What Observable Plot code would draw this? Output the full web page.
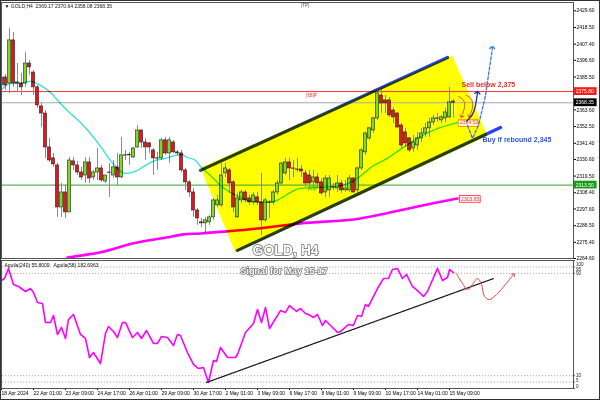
<!DOCTYPE html>
<html><head><meta charset="utf-8">
<script src="https://cdn.jsdelivr.net/npm/d3@7"></script>
<script src="https://cdn.jsdelivr.net/npm/@observablehq/plot@0.6"></script>
<style>
body{margin:0;background:#fff;}
#wrap{position:relative;width:600px;height:400px;overflow:hidden;font-family:"Liberation Sans",Arial,sans-serif;}
#main{position:absolute;left:0;top:0;}
#ind{position:absolute;left:0;top:259px;}
#border{position:absolute;left:0;top:0;width:598px;height:398px;border:1px solid #333;pointer-events:none;}
</style></head><body>
<div id="wrap"><div id="main"></div><div id="ind"></div><div id="border"></div></div>
<script>
// ---- H4 candles (bar index 0..113) ----
const open = [2379.9,2385.2,2381.2,2409.9,2381.9,2381.2,2381.2,2394.5,2388.5,2378.6,
2365.9,2361.2,2338.6,2331.3,2326.6,2298.6,2308.6,2295.3,2329.3,2326.6,
2321.9,2319.9,2328.6,2318.6,2321.9,2324.6,2315.9,2321.9,2319.9,2325.3,
2318.6,2333.3,2333.3,2331.9,2338.6,2349.9,2341.9,2341.3,2336.6,2331.3,
2331.3,2343.3,2334.6,2341.9,2335.3,2334.6,2323.3,2315.3,2308.6,2296.6,
2288.7,2288.0,2288.7,2292.0,2300.0,2300.0,2321.3,2323.3,2315.3,2292.0,
2303.3,2308.6,2304.6,2302.0,2305.3,2302.0,2290.0,2302.0,2302.0,2308.6,
2314.6,2321.3,2328.6,2324.6,2323.9,2323.9,2321.3,2319.9,2315.3,2318.6,
2315.3,2308.6,2310.0,2312.0,2311.3,2314.6,2310.0,2310.0,2317.9,2310.0,
2324.6,2335.3,2344.6,2349.9,2357.9,2373.2,2369.9,2369.9,2363.2,2361.2,
2353.2,2348.6,2344.6,2337.9,2339.9,2344.6,2347.9,2351.3,2355.2,2357.9,
2356.6,2357.9,2358.6,2369.17];
const high = [2386.6,2387.2,2417.8,2415.2,2394.5,2387.9,2401.9,2396.5,2389.9,2379.9,
2367.9,2363.2,2344.6,2334.6,2327.9,2314.6,2313.3,2331.9,2331.9,2329.3,
2325.3,2331.9,2331.9,2323.3,2337.9,2326.6,2319.9,2327.9,2329.9,2334.6,
2345.3,2336.6,2335.3,2338.6,2353.2,2349.9,2344.6,2341.9,2337.9,2335.3,
2344.6,2345.3,2345.3,2343.3,2336.6,2336.6,2324.6,2316.6,2311.3,2298.0,
2291.3,2292.0,2293.3,2304.6,2306.6,2327.9,2327.9,2324.6,2316.6,2308.0,
2310.0,2310.0,2306.6,2308.6,2308.6,2321.3,2304.6,2303.3,2310.0,2316.6,
2328.6,2331.3,2331.3,2329.9,2331.3,2326.6,2323.3,2323.3,2323.3,2321.3,
2317.9,2319.9,2319.9,2314.6,2319.9,2316.6,2316.6,2319.9,2318.6,2325.3,
2337.9,2348.6,2351.9,2358.6,2376.6,2378.6,2373.2,2371.9,2365.2,2361.9,
2354.6,2351.3,2345.3,2346.6,2348.6,2351.3,2354.6,2357.9,2359.9,2361.2,
2359.9,2364.6,2378.6,2370.64];
const low = [2377.9,2376.6,2374.6,2378.6,2375.2,2373.2,2378.6,2386.6,2373.2,2364.6,
2351.9,2331.3,2328.6,2325.3,2292.0,2292.0,2291.3,2295.3,2323.3,2319.9,
2316.6,2314.6,2314.6,2316.6,2316.6,2315.3,2314.6,2305.3,2317.9,2313.3,
2317.9,2329.9,2326.6,2331.3,2337.9,2337.9,2329.9,2334.6,2319.9,2323.3,
2329.9,2333.3,2327.9,2334.6,2333.3,2321.9,2310.0,2305.3,2292.0,2286.7,
2285.3,2281.3,2286.7,2290.0,2298.6,2298.6,2318.6,2308.0,2295.3,2291.3,
2301.3,2301.3,2300.0,2300.0,2300.0,2280.0,2288.7,2291.3,2300.0,2306.6,
2313.3,2319.9,2316.6,2318.6,2321.9,2318.6,2312.0,2312.0,2312.0,2311.3,
2306.6,2305.3,2305.3,2310.0,2308.6,2308.0,2308.6,2308.6,2308.0,2308.0,
2323.3,2333.3,2343.3,2347.9,2356.6,2361.2,2361.2,2358.6,2354.6,2351.3,
2337.9,2338.6,2335.3,2335.3,2336.6,2341.9,2345.3,2345.3,2353.2,2355.2,
2354.6,2355.2,2357.9,2358.08];
const close = [2385.2,2379.9,2409.9,2381.2,2381.2,2378.6,2394.5,2391.9,2378.6,2366.6,
2361.2,2338.6,2329.9,2327.3,2298.6,2308.6,2295.3,2329.9,2326.6,2321.9,
2318.6,2328.6,2317.9,2321.9,2324.6,2316.6,2319.9,2321.7,2325.3,2318.6,
2333.3,2333.1,2333.5,2337.9,2349.9,2341.9,2338.6,2338.6,2331.3,2331.1,
2343.3,2334.6,2343.3,2335.3,2334.6,2323.3,2315.3,2308.6,2296.6,2291.3,
2288.0,2290.0,2292.0,2303.3,2303.3,2319.9,2324.6,2314.6,2298.6,2304.6,
2308.6,2303.3,2302.0,2306.6,2302.0,2290.0,2303.3,2301.8,2308.6,2314.6,
2327.9,2328.6,2324.6,2324.4,2323.7,2322.6,2314.6,2314.6,2318.6,2314.6,
2308.0,2317.9,2317.9,2311.8,2314.6,2310.0,2311.3,2317.9,2308.6,2324.6,
2336.6,2347.9,2351.3,2357.9,2374.6,2367.9,2367.9,2359.9,2358.6,2351.9,
2339.9,2341.3,2336.6,2341.9,2344.6,2347.9,2351.3,2355.2,2357.9,2357.7,
2358.6,2361.9,2368.6,2368.35];

// ---- moving averages ----
const maFastK = [0,2.25,4.75,7.25,9.75,12.25,14.75,17.25,19.75,22.25,24.75,27.25,29,31,33.5,36,38.5,41,43.5,45,46.5,48.5,49.75,52.25,54.75,57.25,59.75,62.25,64.75,67.25,69.75,72.25,74.75,79.25,83.5,87.75,90.25,92.75,96,99.75,104.75,109.75,114];
const maFastP = [2377.2,2381.2,2381.2,2382.6,2379.9,2375.2,2367.9,2361.2,2355.2,2347.9,2339.3,2329.9,2324.6,2321.3,2322.6,2326.6,2329.9,2331.3,2333.3,2333.9,2331.9,2329.9,2326.0,2319.9,2313.3,2308.6,2305.3,2302.6,2302.0,2302.0,2304.6,2308.6,2311.3,2312.0,2312.6,2316.0,2320.6,2326.0,2330.6,2337.3,2345.9,2351.9,2355.2];
const maSlowK = [16.5,24.75,33,41.5,45.5,49.75,56.5,64.75,74.75,89.75,95.5,104,114];
const maSlowP = [2265.3,2268.7,2274.7,2278.7,2280.7,2281.3,2282.7,2284.7,2288.0,2291.3,2294.3,2299.3,2304.6];

// ---- channel ----
const chanTopK = [49.75,111.5], chanTopP = [2323.3,2398.5];
const chanBotK = [59,124.75], chanBotP = [2270.0,2351.9];
const chanPolyK = [49.75,112.7,121.5,58.5], chanPolyP = [2325.0,2399.8,2346.3,2268.4];

// ---- levels & axis ----
const priceTicks = [2429.6,2418.5,2407.4,2396.6,2385.5,2363.6,2352.5,2341.4,2330.6,2319.5,2308.4,2297.6,2286.5,2275.4,2264.6];
const levelValues = [2375.80,2368.35,2313.50];
const xTickIdx = [0,8,16,24,32,40,48,56,64,72,80,88,96,104,112];
const xTickLabels = ["18 Apr 2024","22 Apr 01:00","23 Apr 09:00","24 Apr 17:00","26 Apr 01:00","29 Apr 09:00","30 Apr 17:00","2 May 01:00","3 May 09:00","6 May 17:00","8 May 01:00","9 May 09:00","10 May 17:00","14 May 01:00","15 May 09:00"];

// ---- annotation paths ----
const arc1K = [114.25,115.5,115.75,115], arc1P = [2372.6,2369.9,2365.2,2359.2];
const arc2K = [116.25,117.5,117.75,117], arc2P = [2373.2,2370.6,2365.2,2359.2];
const blueUpK = [116.25,117.75,118.5,119], blueUpP = [2355.9,2360.6,2366.6,2375.2];
const blueDashK = [116.5,117.75,119.25,121,122.75], blueDashP = [2353.3,2344.6,2353.3,2373.2,2405.2];

// ---- Aguila indicator ----
const aguilaK = [0,0.75,1.75,3,4.25,6,7.25,8,9,10.25, 11,12.25,13,14,15,16,16.75,18,19.75,21, 22,23,24.75,26,26.75,28,29,30.25,31,32.75, 34,35,36.25,38,39,40,41.5,43,44,44.75, 46.5,48,49.25,50.5,51.75,53,53.75,54.75,56.5,58.5, 59,61,63,64,65,66,67,69.75,71,72, 73.75,74.75,76,76.75,78,79,80.25,81,82.25,84, 84.75,86.75,88,89,90,91,91.75,94,95.5,96.75, 97.75,99,100.25,101.25,102.75,103.75,105.5,106.5,109,110.25, 111.5,112,113];
const aguilaV = [84.4,85.9,93.8,81.3,79.7,75.8,78.1,75.0,67.2,66.4, 51.6,51.6,57.0,42.2,47.7,39.1,53.9,57.8,42.2,39.1, 24.2,28.1,19.5,43.0,48.4,44.5,39.8,51.6,51.6,39.8, 43.8,39.1,45.3,35.2,35.2,40.6,39.8,33.6,42.2,41.4, 28.1,18.8,15.6,16.4,4.7,21.9,21.1,32.0,24.2,24.2, 26.6,43.8,50.8,61.7,51.6,63.3,46.9,60.9,59.4,64.8, 60.2,62.5,58.6,57.8,55.5,57.8,49.2,53.1,49.2,43.8, 44.5,50.0,49.2,57.0,56.3,65.6,64.1,78.1,85.9,85.9, 93.0,93.8,85.9,89.1,79.7,77.3,71.9,75.8,93.8,84.4, 86.7,93.0,90.6];
const indLevels = [95,90,10,5];
const indTicks = [100,95,90,10,5,0];
const trendK = [51.25,123], trendV = [4.7,85.9];
const fcK = [113.75,115.25,116.5,117.75,119,120,120.75,122,123.75,126,128];
const fcV = [89.8,82.0,77.3,81.3,85.9,81.3,71.9,69.5,73.4,81.3,89.1];

// ---- build ----
const candles = open.map((o,i)=>({i,o,h:high[i],l:low[i],c:close[i]}));
const pts = (ks, vs) => ks.map((k,i)=>({k, v: vs[i]}));
const FONT = "Liberation Sans, Arial, sans-serif";
const xLabelMap = new Map(xTickIdx.map((k,i)=>[k, xTickLabels[i]]));
const levelColors = ["#ff1a1a","#000000","#1a9a1a"];
const lineColors = ["#ff3030","#a8a8a8","#2fa02f"];

const main = Plot.plot({
  width: 600, height: 259,
  marginLeft: 1, marginRight: 27, marginTop: 2, marginBottom: 1,
  style: {fontFamily: FONT, fontSize: "5px", background: "transparent", overflow: "visible"},
  x: {domain: [0,143], axis: null},
  y: {domain: [2264.6, 2435.15], axis: "right", ticks: priceTicks, tickFormat: d => d.toFixed(2), tickSize: 2, tickPadding: 1, label: null},
  marks: [
    Plot.line(pts(chanPolyK, chanPolyP), {x: "k", y: "v", fill: "#ffff00", stroke: "none"}),
    ...levelValues.map((v,i) => Plot.ruleY([v], {stroke: lineColors[i], strokeWidth: 1})),
    Plot.ruleX(candles, {x: "i", y1: "l", y2: "h", stroke: "#8c8c8c", strokeWidth: 1}),
    Plot.rect(candles, {x1: d => d.i - 0.38, x2: d => d.i + 0.38, y1: "o", y2: "c",
      fill: d => d.c >= d.o ? "#7bdc18" : "#e8141c", stroke: "#1e1e1e", strokeWidth: 0.6}),
    Plot.line(pts(maSlowK, maSlowP), {x: "k", y: "v", stroke: "#ff00ff", strokeWidth: 2.6, curve: "monotone-x", mixBlendMode: "multiply"}),
    Plot.line(pts(maFastK, maFastP), {x: "k", y: "v", stroke: "#33e0d8", strokeWidth: 1.3, curve: "monotone-x", mixBlendMode: "multiply"}),
    Plot.line(pts(chanTopK, chanTopP), {x: "k", y: "v", stroke: "#2840ff", strokeWidth: 3.2, mixBlendMode: "multiply"}),
    Plot.line(pts(chanBotK, chanBotP), {x: "k", y: "v", stroke: "#2840ff", strokeWidth: 3.2, mixBlendMode: "multiply"}),
    // level labels on price axis
    ...levelValues.map((v,i) => Plot.rect([v], {x1: 143.25, x2: 148.9, y1: d => d - 2.6, y2: d => d + 2.6, fill: levelColors[i]})),
    Plot.text(levelValues, {x: 143.55, y: d => d, text: d => d.toFixed(2), textAnchor: "start", fill: "white", fontSize: 5}),
    // MA value labels
    Plot.rect([2354.52], {x1: 114.3, x2: 119.3, y1: d => d - 2.2, y2: d => d + 2.2, fill: "#fff7e0", stroke: "#ff7a00", strokeWidth: 0.8}),
    Plot.text([2354.52], {x: 114.6, y: d => d + 0.9, text: d => d.toFixed(2), textAnchor: "start", fill: "#ff5000", fontSize: 5}),
    Plot.rect([2303.95], {x1: 114.6, x2: 119.8, y1: d => d - 2.2, y2: d => d + 2.2, fill: "#fff", stroke: "#ff2020", strokeWidth: 0.8}),
    Plot.text([2303.95], {x: 114.9, y: d => d, text: d => d.toFixed(2), textAnchor: "start", fill: "#ff2020", fontSize: 5}),
    // arrows
    Plot.line(pts(arc1K, arc1P), {x: "k", y: "v", stroke: "#f04a2a", strokeWidth: 1, curve: "natural", markerEnd: "arrow"}),
    Plot.line(pts(arc2K, arc2P), {x: "k", y: "v", stroke: "#f04a2a", strokeWidth: 1, curve: "natural", markerEnd: "arrow"}),
    Plot.line(pts(blueUpK, blueUpP), {x: "k", y: "v", stroke: "#1a2fa8", strokeWidth: 1.3, curve: "natural", markerEnd: "arrow"}),
    Plot.line(pts(blueDashK, blueDashP), {x: "k", y: "v", stroke: "#3a78e0", strokeWidth: 1.3, strokeDasharray: "3,2", markerEnd: "arrow"}),
    // texts
    Plot.text(["Sell below 2,375"], {x: 115, y: 2380.6, textAnchor: "start", fill: "#ee2a2a", fontWeight: "bold", fontSize: 7}),
    Plot.text(["Buy if rebound 2,345"], {x: 120.25, y: 2343.9, textAnchor: "start", fill: "#2a56e8", fontWeight: "bold", fontSize: 7}),
    Plot.text(["GOLD, H4"], {x: 62.75, y: 2269.6, textAnchor: "start", fill: "white", stroke: "#6a6a6a", strokeWidth: 1.4, paintOrder: "stroke", fontWeight: "bold", fontSize: 14}),
    Plot.text(["[68]P"], {x: 76.2, y: 2373.4, textAnchor: "start", fill: "#ff3030", fontSize: 4.5}),
    Plot.text(["[68]P"], {x: 76.5, y: 2311.2, textAnchor: "start", fill: "#2fa02f", fontSize: 4.5}),
    Plot.text(["▼ GOLD,H4  2369.17 2370.64 2358.08 2368.35"], {frameAnchor: "top-left", dx: 3, dy: 2, textAnchor: "start", fill: "#111", fontSize: 5}),
    Plot.text(["(TP)"], {x: 74.8, y: 2433.2, textAnchor: "start", fill: "#444", fontSize: 4.5}),
    Plot.frame({stroke: "#555", strokeWidth: 1})
  ]
});
document.getElementById("main").appendChild(main);

// small vertical nudges so the stacked right-axis labels of the indicator do not collide
const indTickDy = {100: 3.6, 95: 2.2, 90: 0.3, 10: 0, 5: -1.2, 0: -1.6};

const ind = Plot.plot({
  width: 600, height: 141,
  marginLeft: 1, marginRight: 27, marginTop: 1, marginBottom: 12,
  style: {fontFamily: FONT, fontSize: "5px", background: "transparent", overflow: "visible"},
  x: {domain: [0,143]},
  y: {domain: [0,100], axis: null},
  marks: [
    Plot.ruleY(indLevels, {x1: 0.25, x2: 143, stroke: "#9a9a9a", strokeDasharray: "1.2,1.8", strokeWidth: 0.8}),
    Plot.line(pts(aguilaK, aguilaV), {x: "k", y: "v", stroke: "#ff00ff", strokeWidth: 1.6}),
    Plot.line(pts(trendK, trendV), {x: "k", y: "v", stroke: "#1a1a1a", strokeWidth: 1.3, strokeDasharray: "1,1"}),
    Plot.line(pts(fcK, fcV), {x: "k", y: "v", stroke: "#e8463a", strokeWidth: 1, curve: "catmull-rom", markerEnd: "arrow"}),
    Plot.axisX({ticks: xTickIdx, tickFormat: d => xLabelMap.get(d), textAnchor: "start", tickSize: 2, tickPadding: 1, fontSize: 5, label: null}),
    Plot.ruleY(indTicks, {x1: 143, x2: 143.5, stroke: "#333", strokeWidth: 0.8}),
    ...indTicks.map(t => Plot.text([t], {x: 143.6, y: d => d, dy: indTickDy[t], text: d => String(d), textAnchor: "start", fill: "#222", fontSize: 4.6})),
    Plot.text(["Aguila(240) 55.8009   Aguila(58) 182.6963"], {frameAnchor: "top-left", dx: 3, dy: 3, textAnchor: "start", fill: "#111", fontSize: 5}),
    Plot.text(["Signal for May 15-17"], {x: 59.75, y: 91.5, textAnchor: "start", fill: "white", stroke: "#6a6a6a", strokeWidth: 1.3, paintOrder: "stroke", fontWeight: "bold", fontSize: 9}),
    Plot.frame({stroke: "#555", strokeWidth: 1})
  ]
});
document.getElementById("ind").appendChild(ind);
</script>
</body></html>
